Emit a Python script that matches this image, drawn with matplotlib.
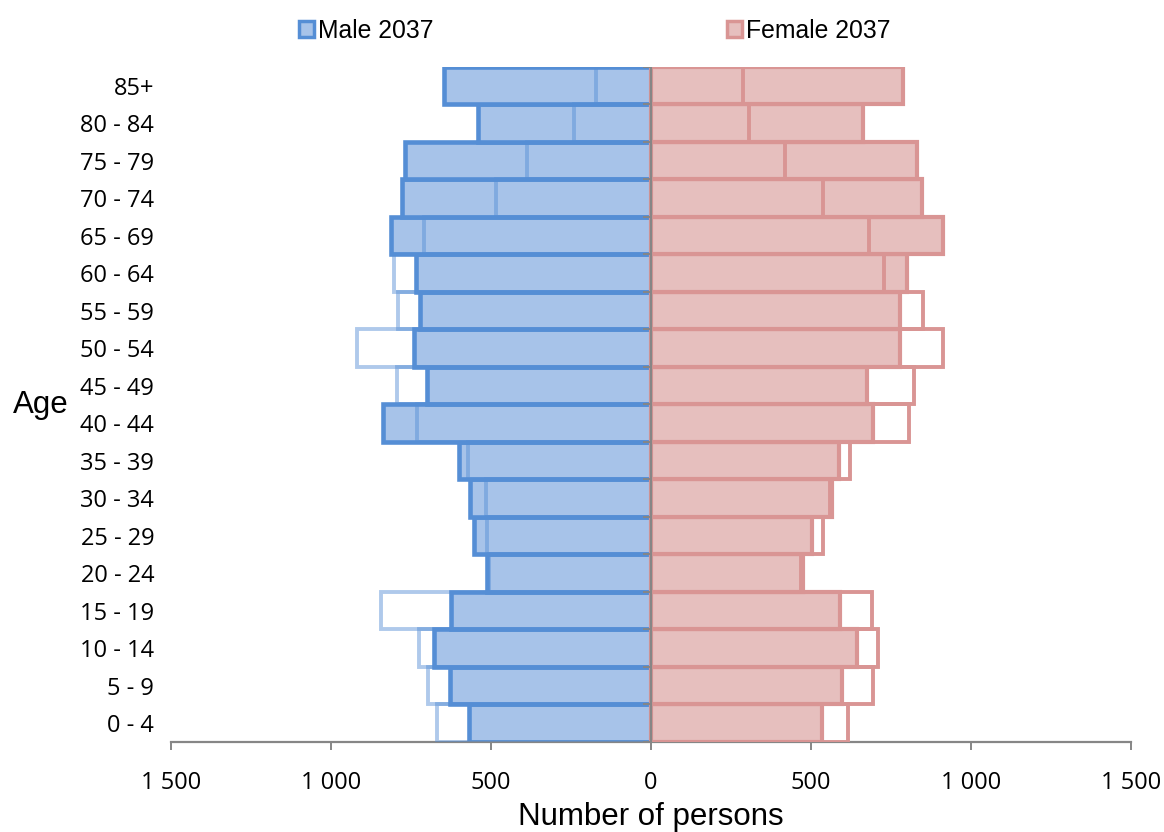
import numpy as np
import matplotlib.pyplot as plt
from matplotlib.patches import Patch
from matplotlib.ticker import FuncFormatter

# age groups, bottom to top
ages = ["0 - 4", "5 - 9", "10 - 14", "15 - 19", "20 - 24", "25 - 29", "30 - 34",
        "35 - 39", "40 - 44", "45 - 49", "50 - 54", "55 - 59", "60 - 64",
        "65 - 69", "70 - 74", "75 - 79", "80 - 84", "85+"]

# projection year (filled bars)
male_2037 = [569, 629, 678, 625, 511, 553, 567, 600, 838, 700, 742, 721, 734,
             813, 778, 769, 541, 648]
female_2037 = [533, 596, 643, 591, 476, 503, 565, 588, 693, 675, 778, 778, 799,
               913, 846, 831, 662, 788]

# base year (outline only, no legend entry)
male_base = [669, 697, 725, 844, 505, 512, 514, 572, 731, 794, 919, 791, 803,
             709, 484, 388, 241, 172]
female_base = [617, 695, 711, 690, 470, 537, 558, 622, 807, 822, 913, 850, 729,
               680, 538, 419, 307, 288]

xticks = [-1500, -1000, -500, 0, 500, 1000, 1500]

M_FILL, M_EDGE = "#A7C3E9", "#558ED5"
F_FILL, F_EDGE = "#E6BFBE", "#D99594"
GRID_GREY = "#868686"

fig = plt.figure(figsize=(11.64, 8.32), dpi=100)
ax = fig.add_axes([0.1469, 0.1082, 0.8247, 0.8113])

y = np.arange(len(ages))
m37 = -np.array(male_2037)
mb = -np.array(male_base)

ax.barh(y, m37, height=1.0, color=M_FILL, edgecolor=M_EDGE, linewidth=3.3,
        zorder=2)
ax.barh(y, female_2037, height=1.0, color=F_FILL, edgecolor=F_EDGE,
        linewidth=3.0, zorder=2)
ax.barh(y, mb, height=1.0, fill=False, edgecolor=M_EDGE, alpha=0.47,
        linewidth=2.8, zorder=3)
ax.barh(y, female_base, height=1.0, fill=False, edgecolor=F_EDGE,
        linewidth=2.8, zorder=3)

# centre axis line with small ticks between the groups
ax.axvline(0, color=GRID_GREY, lw=1.6, zorder=4)
bounds = np.arange(len(ages) + 1) - 0.5
ax.plot(np.zeros(len(bounds)), bounds, ls="none", marker=0, ms=6, mew=1.4,
        color=GRID_GREY, zorder=4)

ax.set_xlim(-1500, 1500)
ax.set_ylim(-0.5, len(ages) - 0.5)

for s in ["top", "right", "left"]:
    ax.spines[s].set_visible(False)
ax.spines["bottom"].set_color(GRID_GREY)
ax.spines["bottom"].set_linewidth(1.6)

ax.set_xticks(xticks)
ax.xaxis.set_major_formatter(FuncFormatter(lambda v, p: f"{abs(int(v)):,}".replace(",", " ")))
ax.tick_params(axis="x", direction="out", length=6, width=1.4, color=GRID_GREY,
               pad=15, labelsize=17)
ax.set_yticks(y)
ax.set_yticklabels(ages)
ax.tick_params(axis="y", length=0, pad=12, labelsize=17)
for lab in ax.get_xticklabels() + ax.get_yticklabels():
    lab.set_family("Open Sans")

ax.set_ylabel("Age", rotation=0, fontsize=22.5, family="Liberation Sans")
ax.yaxis.set_label_coords(-0.136, 0.499)
ax.yaxis.label.set_va("center")
ax.yaxis.label.set_ha("center")
ax.set_xlabel("Number of persons", fontsize=22.5, family="Liberation Sans")
ax.xaxis.set_label_coords(0.5, -0.111)
ax.xaxis.label.set_va("center")

handles = [Patch(facecolor=M_FILL, edgecolor=M_EDGE, linewidth=2.5, label="Male 2037"),
           Patch(facecolor=F_FILL, edgecolor=F_EDGE, linewidth=2.5, label="Female 2037")]
fig.legend(handles=handles, loc="center", bbox_to_anchor=(0.511, 0.963), ncol=2,
           frameon=False, handlelength=0.6, handleheight=0.6, handletextpad=0.15,
           columnspacing=11.9, prop={"family": "Liberation Sans", "size": 17.8})

fig.savefig("out.png", dpi=100)
